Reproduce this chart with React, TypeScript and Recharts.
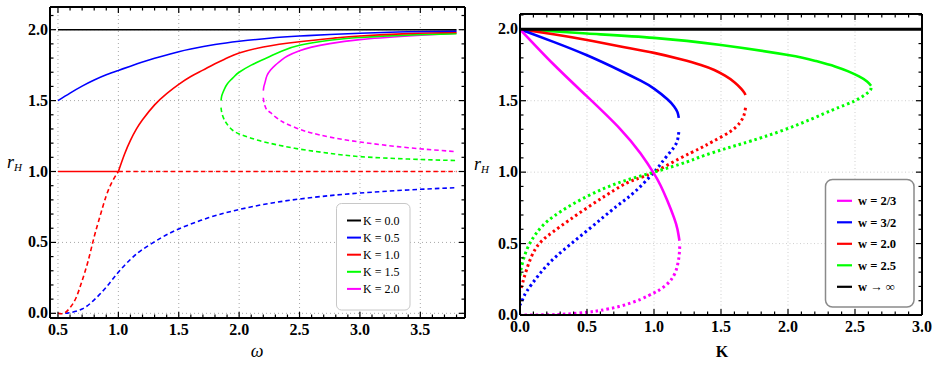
import React from "react";
import { LineChart, Line, XAxis, YAxis, CartesianGrid } from "recharts";

type Pt = [number, number];

// r_H against ω, one family per coupling K (solid = stable, dashed = unstable)
const omegaK00: Pt[] = [[0.5, 2.0], [3.8, 2.0]];
const omegaK05Stable: Pt[] = [
  [0.5, 1.5], [0.6, 1.553], [0.7, 1.602], [0.8, 1.645], [0.9, 1.682], [1.0, 1.713], [1.1, 1.743],
  [1.2, 1.772], [1.3, 1.798], [1.4, 1.822], [1.5, 1.845], [1.6, 1.864], [1.8, 1.895], [2.0, 1.918],
  [2.25, 1.94], [2.5, 1.955], [2.75, 1.966], [3.0, 1.975], [3.4, 1.985], [3.8, 1.99],
];
const omegaK05Unstable: Pt[] = [
  [0.56, 0.0], [0.6, 0.005], [0.7, 0.03], [0.8, 0.095], [0.9, 0.185], [1.0, 0.29], [1.1, 0.38],
  [1.2, 0.45], [1.35, 0.53], [1.5, 0.595], [1.75, 0.675], [2.0, 0.732], [2.25, 0.775], [2.5, 0.806],
  [2.75, 0.83], [3.0, 0.848], [3.4, 0.87], [3.8, 0.886],
];
const omegaK10Flat: Pt[] = [[0.5, 1.0], [1.0, 1.0]];
const omegaK10Stable: Pt[] = [
  [1.0, 1.0], [1.05, 1.12], [1.1, 1.22], [1.15, 1.3], [1.2, 1.365], [1.3, 1.47], [1.4, 1.55],
  [1.5, 1.615], [1.6, 1.67], [1.7, 1.715], [1.8, 1.76], [1.9, 1.8], [2.0, 1.835], [2.2, 1.878],
  [2.5, 1.915], [2.8, 1.942], [3.0, 1.956], [3.4, 1.972], [3.8, 1.98],
];
const omegaK10Unstable: Pt[] = [[1.0, 1.0], [3.8, 1.0]];
const omegaK10Lower: Pt[] = [
  [0.5, 0.0], [0.55, 0.0], [0.6, 0.04], [0.65, 0.11], [0.7, 0.23], [0.75, 0.37], [0.8, 0.54],
  [0.85, 0.69], [0.9, 0.83], [0.95, 0.93], [1.0, 1.0],
];
const omegaK15Stable: Pt[] = [
  [1.85, 1.5], [1.855, 1.53], [1.865, 1.555], [1.88, 1.585], [1.9, 1.615], [1.93, 1.645],
  [1.96, 1.67], [2.0, 1.7], [2.1, 1.75], [2.2, 1.79], [2.35, 1.848], [2.5, 1.89], [2.75, 1.925],
  [3.0, 1.945], [3.4, 1.962], [3.8, 1.972],
];
const omegaK15Unstable: Pt[] = [
  [1.85, 1.45], [1.855, 1.42], [1.865, 1.39], [1.88, 1.36], [1.9, 1.335], [1.94, 1.295],
  [2.0, 1.265], [2.1, 1.235], [2.25, 1.2], [2.5, 1.158], [2.75, 1.128], [3.0, 1.105], [3.4, 1.088],
  [3.8, 1.077],
];
const omegaK20Stable: Pt[] = [
  [2.2, 1.57], [2.205, 1.6], [2.215, 1.63], [2.23, 1.675], [2.26, 1.715], [2.3, 1.75],
  [2.35, 1.785], [2.4, 1.815], [2.5, 1.852], [2.6, 1.877], [2.75, 1.902], [3.0, 1.93],
  [3.4, 1.955], [3.8, 1.975],
];
const omegaK20Unstable: Pt[] = [
  [2.2, 1.52], [2.205, 1.49], [2.215, 1.46], [2.23, 1.435], [2.26, 1.415], [2.3, 1.385],
  [2.35, 1.355], [2.4, 1.333], [2.5, 1.298], [2.6, 1.272], [2.75, 1.243], [3.0, 1.208],
  [3.4, 1.168], [3.8, 1.14],
];

// r_H against K, one family per w
const kWInf: Pt[] = [[0, 2.0], [3.0, 2.0]];
const kW23Stable: Pt[] = [
  [0, 2.0], [0.25, 1.755], [0.5, 1.53], [0.75, 1.3], [0.9, 1.13], [1.0, 0.99], [1.05, 0.905],
  [1.1, 0.8], [1.15, 0.68], [1.175, 0.6], [1.19, 0.52],
];
const kW23Unstable: Pt[] = [
  [1.192, 0.48], [1.188, 0.42], [1.178, 0.36], [1.16, 0.3], [1.13, 0.25], [1.09, 0.21],
  [1.04, 0.175], [1.0, 0.155], [0.9, 0.11], [0.75, 0.062], [0.6, 0.032], [0.5, 0.019],
  [0.35, 0.007], [0.2, 0.0015], [0, 0],
];
const kW32Stable: Pt[] = [
  [0, 2.0], [0.25, 1.912], [0.5, 1.818], [0.75, 1.71], [0.9, 1.64], [1.0, 1.585], [1.1, 1.51],
  [1.15, 1.46], [1.175, 1.42], [1.185, 1.38],
];
const kW32Unstable: Pt[] = [
  [1.185, 1.28], [1.178, 1.235], [1.16, 1.19], [1.12, 1.14], [1.06, 1.07], [1.0, 1.0],
  [0.86, 0.865], [0.72, 0.76], [0.5, 0.59], [0.27, 0.41], [0.14, 0.28], [0.05, 0.165],
  [0.02, 0.11], [0, 0.07],
];
const kW20Stable: Pt[] = [
  [0, 2.0], [0.25, 1.965], [0.5, 1.925], [0.75, 1.88], [1.0, 1.835], [1.2, 1.79], [1.35, 1.75],
  [1.45, 1.715], [1.53, 1.675], [1.6, 1.63], [1.65, 1.585], [1.675, 1.555], [1.683, 1.54],
];
const kW20Unstable: Pt[] = [
  [1.683, 1.45], [1.67, 1.395], [1.64, 1.345], [1.57, 1.285], [1.44, 1.215], [1.34, 1.165],
  [1.19, 1.095], [1.0, 1.0], [0.87, 0.952], [0.75, 0.9], [0.5, 0.75], [0.25, 0.585],
  [0.12, 0.47], [0.05, 0.32], [0.012, 0.2], [0, 0.17],
];
const kW25Stable: Pt[] = [
  [0, 2.0], [0.5, 1.97], [1.0, 1.94], [1.5, 1.89], [2.0, 1.82], [2.2, 1.78], [2.35, 1.74],
  [2.45, 1.705], [2.53, 1.67], [2.59, 1.635], [2.62, 1.605],
];
const kW25Unstable: Pt[] = [
  [2.62, 1.59], [2.6, 1.56], [2.5, 1.5], [2.33, 1.434], [2.0, 1.306], [1.66, 1.2], [1.5, 1.155],
  [1.34, 1.105], [1.24, 1.07], [1.0, 1.0], [0.75, 0.93], [0.5, 0.83], [0.25, 0.69], [0.12, 0.57],
  [0.05, 0.455], [0.012, 0.34], [0, 0.27],
];

const omegaTickLabels = [0.5, 1.0, 1.5, 2.0, 2.5, 3.0, 3.5];
const rTickLabels = [0.0, 0.5, 1.0, 1.5, 2.0];
const kTickLabels = [0.0, 0.5, 1.0, 1.5, 2.0, 2.5, 3.0];

const couplingLabels = ["K = 0.0", "K = 0.5", "K = 1.0", "K = 1.5", "K = 2.0"];
const wLabels = ["w = 2/3", "w = 3/2", "w = 2.0", "w = 2.5", "w \u2192 \u221e"];

const BLACK = "#000000";
const BLUE = "#0000ff";
const RED = "#ff0000";
const GREEN = "#00ff00";
const MAGENTA = "#ff00ff";
const SERIF = "'Liberation Serif', 'Times New Roman', Times, serif";

const couplingColors = [BLACK, BLUE, RED, GREEN, MAGENTA];
const wColors = [MAGENTA, BLUE, RED, GREEN, BLACK];

const rows = (pts: Pt[]) => pts.map(([x, y]) => ({ x, y }));

// minor tick positions every 0.1
const range = (from: number, to: number) => {
  const out: number[] = [];
  for (let i = Math.round(from * 10); i <= Math.round(to * 10); i++) out.push(i / 10);
  return out;
};

const isMajor = (v: number) => Math.abs(v * 2 - Math.round(v * 2)) < 1e-6;

type Side = "bottom" | "top" | "left" | "right";

const labelStyle: React.CSSProperties = { fontFamily: SERIF, fontWeight: 700, fontSize: 16 };

// inward-pointing tick marks, labels only on the major values listed
const makeTick = (side: Side, labels: number[] = []) => (props: any) => {
  const { x, y, payload } = props;
  const v: number = payload.value;
  const len = isMajor(v) ? 6 : 3.5;
  const showLabel = labels.some((l) => Math.abs(l - v) < 1e-6);
  let mark;
  if (side === "bottom") mark = <line x1={x} y1={y} x2={x} y2={y - len} />;
  else if (side === "top") mark = <line x1={x} y1={y} x2={x} y2={y + len} />;
  else if (side === "left") mark = <line x1={x} y1={y} x2={x + len} y2={y} />;
  else mark = <line x1={x} y1={y} x2={x - len} y2={y} />;
  return (
    <g>
      <g stroke="#000" strokeWidth={1.2}>{mark}</g>
      {showLabel && side === "bottom" && (
        <text x={x} y={y + 17} textAnchor="middle" style={labelStyle} fill="#000">
          {v.toFixed(1)}
        </text>
      )}
      {showLabel && side === "left" && (
        <text x={x - 2} y={y + 5} textAnchor="end" style={labelStyle} fill="#000">
          {v.toFixed(1)}
        </text>
      )}
    </g>
  );
};

const frame = { stroke: "#000", strokeWidth: 2 };

function OmegaPanel() {
  const xDomain = [0.434, 3.87];
  const yDomain = [-0.033, 2.16];
  const xTicks = range(0.5, 3.8);
  const yTicks = range(0, 2.1);
  const solid = (d: Pt[], c: string, key: string) => (
    <Line key={key} type="natural" data={rows(d)} dataKey="y" stroke={c} strokeWidth={1.6} dot={false} activeDot={false} isAnimationActive={false} />
  );
  const dashed = (d: Pt[], c: string, key: string) => (
    <Line key={key} type="natural" data={rows(d)} dataKey="y" stroke={c} strokeWidth={1.6} strokeDasharray="4.5 3" dot={false} activeDot={false} isAnimationActive={false} />
  );
  return (
    <LineChart width={470} height={390} margin={{ top: 0, right: 0, bottom: 0, left: 0 }}>
      <CartesianGrid stroke="#a8a8a8" strokeDasharray="1 3" horizontalValues={rTickLabels} verticalValues={omegaTickLabels} />
      <XAxis dataKey="x" type="number" domain={xDomain} allowDataOverflow ticks={xTicks} interval={0} height={72}
        tickSize={0} tickMargin={0} axisLine={frame} tickLine={false} tick={makeTick("bottom", omegaTickLabels)} />
      <XAxis xAxisId="top" orientation="top" dataKey="x" type="number" domain={xDomain} allowDataOverflow ticks={xTicks}
        interval={0} height={7} tickSize={0} tickMargin={0} axisLine={frame} tickLine={false} tick={makeTick("top")} />
      <YAxis type="number" domain={yDomain} allowDataOverflow ticks={yTicks} interval={0} width={50}
        tickSize={0} tickMargin={0} axisLine={frame} tickLine={false} tick={makeTick("left", rTickLabels)} />
      <YAxis yAxisId="right" orientation="right" type="number" domain={yDomain} allowDataOverflow ticks={yTicks}
        interval={0} width={5} tickSize={0} tickMargin={0} axisLine={frame} tickLine={false} tick={makeTick("right")} />
      {dashed(omegaK05Unstable, BLUE, "b2")}
      {dashed(omegaK10Lower, RED, "r3")}
      {dashed(omegaK10Unstable, RED, "r2")}
      {dashed(omegaK15Unstable, GREEN, "g2")}
      {dashed(omegaK20Unstable, MAGENTA, "m2")}
      {solid(omegaK10Flat, RED, "r0")}
      {solid(omegaK20Stable, MAGENTA, "m1")}
      {solid(omegaK15Stable, GREEN, "g1")}
      {solid(omegaK10Stable, RED, "r1")}
      {solid(omegaK05Stable, BLUE, "b1")}
      {solid(omegaK00, BLACK, "k0")}
    </LineChart>
  );
}

function CouplingPanel() {
  const xDomain = [0, 3];
  const yDomain = [0, 2.107];
  const xTicks = range(0, 3);
  const yTicks = range(0, 2.1);
  const solid = (d: Pt[], c: string, key: string, w = 2.6) => (
    <Line key={key} type="natural" data={rows(d)} dataKey="y" stroke={c} strokeWidth={w} dot={false} activeDot={false} isAnimationActive={false} />
  );
  const dotted = (d: Pt[], c: string, key: string) => (
    <Line key={key} type="natural" data={rows(d)} dataKey="y" stroke={c} strokeWidth={3} strokeDasharray="2.5 3" dot={false} activeDot={false} isAnimationActive={false} />
  );
  return (
    <LineChart width={469} height={390} margin={{ top: 0, right: 0, bottom: 0, left: 0 }}>
      <CartesianGrid stroke="#cfcfcf" strokeDasharray="1 2.5" horizontalValues={[0.5, 1.0, 1.5]} verticalValues={[0.5, 1.0, 1.5, 2.0, 2.5]} />
      <XAxis dataKey="x" type="number" domain={xDomain} allowDataOverflow ticks={xTicks} interval={0} height={75}
        tickSize={0} tickMargin={0} axisLine={frame} tickLine={false} tick={makeTick("bottom", kTickLabels)} />
      <XAxis xAxisId="top" orientation="top" dataKey="x" type="number" domain={xDomain} allowDataOverflow ticks={xTicks}
        interval={0} height={14} tickSize={0} tickMargin={0} axisLine={frame} tickLine={false} tick={makeTick("top")} />
      <YAxis type="number" domain={yDomain} allowDataOverflow ticks={yTicks} interval={0} width={50}
        tickSize={0} tickMargin={0} axisLine={frame} tickLine={false} tick={makeTick("left", rTickLabels)} />
      <YAxis yAxisId="right" orientation="right" type="number" domain={yDomain} allowDataOverflow ticks={yTicks}
        interval={0} width={17} tickSize={0} tickMargin={0} axisLine={frame} tickLine={false} tick={makeTick("right")} />
      {dotted(kW23Unstable, MAGENTA, "m2")}
      {dotted(kW32Unstable, BLUE, "b2")}
      {dotted(kW20Unstable, RED, "r2")}
      {dotted(kW25Unstable, GREEN, "g2")}
      {solid(kW25Stable, GREEN, "g1")}
      {solid(kW20Stable, RED, "r1")}
      {solid(kW32Stable, BLUE, "b1")}
      {solid(kW23Stable, MAGENTA, "m1")}
      {solid(kWInf, BLACK, "k0", 3)}
    </LineChart>
  );
}

function Overlay() {
  const serif: React.CSSProperties = { fontFamily: SERIF };
  return (
    <svg width={939} height={390} style={{ position: "absolute", left: 0, top: 0, pointerEvents: "none" }}>
      {/* axis titles */}
      <text x={7} y={168} style={{ ...serif, fontStyle: "italic", fontSize: 18 }}>
        r<tspan style={{ fontSize: 11 }} dy={3}>H</tspan>
      </text>
      <text x={257} y={357} textAnchor="middle" style={{ ...serif, fontStyle: "italic", fontSize: 18 }}>ω</text>
      <text x={474} y={170} style={{ ...serif, fontStyle: "italic", fontSize: 18 }}>
        r<tspan style={{ fontSize: 11 }} dy={3}>H</tspan>
      </text>
      <text x={722} y={357} textAnchor="middle" style={{ ...serif, fontWeight: 700, fontSize: 16 }}>K</text>

      {/* legend, ω panel */}
      <rect x={336.5} y={203.5} width={73.5} height={106.5} rx={5} fill="#fff" stroke="#c8c8c8" strokeWidth={1} />
      {couplingLabels.map((label, i) => {
        const cy = 220.5 + i * 17.1;
        return (
          <g key={label}>
            <line x1={347} x2={361} y1={cy} y2={cy} stroke={couplingColors[i]} strokeWidth={2} />
            <text x={363} y={cy + 4} style={{ ...serif, fontSize: 12 }} fill="#000">{label}</text>
          </g>
        );
      })}

      {/* legend, K panel */}
      <rect x={825.5} y={179.5} width={88.5} height={127.5} rx={7} fill="#fff" stroke="#8a8a8a" strokeWidth={1.5} />
      {wLabels.map((label, i) => {
        const cy = 200.8 + i * 21.5;
        return (
          <g key={label}>
            <line x1={837} x2={852} y1={cy} y2={cy} stroke={wColors[i]} strokeWidth={2.2} />
            <text x={858} y={cy + 4.5} style={{ ...serif, fontWeight: 700, fontSize: 12.5 }} fill="#000">{label}</text>
          </g>
        );
      })}
    </svg>
  );
}

export default function App() {
  return (
    <div style={{ position: "fixed", left: 0, top: 0, width: 939, height: 390, background: "#fff", overflow: "hidden" }}>
      <div style={{ position: "absolute", left: 0, top: 0 }}>
        <OmegaPanel />
      </div>
      <div style={{ position: "absolute", left: 470, top: 0 }}>
        <CouplingPanel />
      </div>
      <Overlay />
    </div>
  );
}
